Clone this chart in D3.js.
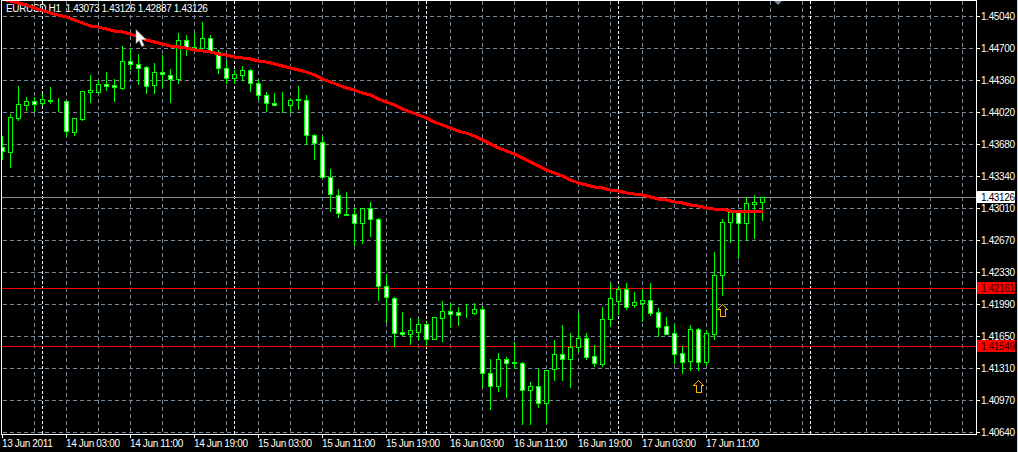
<!DOCTYPE html>
<html><head><meta charset="utf-8">
<script src="https://cdn.jsdelivr.net/npm/d3@7/dist/d3.min.js"></script>
<style>
html,body{margin:0;padding:0;background:#000;overflow:hidden}
svg{display:block}
text{font-family:"Liberation Sans",Arial,sans-serif;font-size:10px;letter-spacing:-0.35px;fill:#fff}
</style></head><body>
<svg id="c" width="1018" height="452"></svg>
<script>
const opens=[1.43654,1.43601,1.43961,1.44098,1.44141,1.44120,1.44151,1.44151,1.44141,1.43813,1.43950,1.44236,1.44236,1.44321,1.44310,1.44278,1.44564,1.44532,1.44500,1.44310,1.44447,1.44416,1.44373,1.44786,1.44701,1.44701,1.44807,1.44659,1.44490,1.44384,1.44416,1.44469,1.44331,1.44204,1.44120,1.44098,1.44098,1.44151,1.44151,1.43781,1.43707,1.43337,1.43147,1.42945,1.42945,1.42850,1.43009,1.42893,1.42184,1.42057,1.41697,1.41676,1.41697,1.41782,1.41623,1.41846,1.41920,1.41909,1.41909,1.41898,1.41941,1.41264,1.41126,1.41412,1.41380,1.41370,1.41084,1.41126,1.40947,1.41306,1.41465,1.41412,1.41539,1.41634,1.41444,1.41359,1.41835,1.42025,1.42152,1.41983,1.42004,1.42036,1.41909,1.41761,1.41687,1.41475,1.41391,1.41729,1.41380,1.41676,1.42300,1.42861,1.42967,1.42850,1.43052,1.43073];
const highs=[1.43770,1.44003,1.44299,1.44183,1.44183,1.44215,1.44289,1.44172,1.44141,1.43961,1.44247,1.44416,1.44363,1.44447,1.44373,1.44722,1.44691,1.44638,1.44511,1.44543,1.44627,1.44479,1.44860,1.44839,1.44860,1.44976,1.44839,1.44680,1.44574,1.44469,1.44511,1.44479,1.44373,1.44236,1.44225,1.44236,1.44172,1.44299,1.44204,1.43792,1.43770,1.43422,1.43210,1.43178,1.43009,1.43009,1.43073,1.42903,1.42311,1.42068,1.41909,1.41846,1.41846,1.41803,1.41856,1.42025,1.42004,1.41962,1.41994,1.42004,1.41973,1.41412,1.41475,1.41433,1.41592,1.41380,1.41169,1.41306,1.41296,1.41613,1.41772,1.41687,1.41898,1.41687,1.41560,1.41962,1.42216,1.42184,1.42216,1.42121,1.42152,1.42216,1.41951,1.41856,1.41782,1.41549,1.41772,1.41740,1.41719,1.42544,1.42893,1.42988,1.42988,1.43126,1.43147,1.43126];
const lows=[1.43527,1.43443,1.43940,1.44046,1.44035,1.44098,1.44120,1.44035,1.43770,1.43781,1.43940,1.44130,1.44225,1.44257,1.44141,1.44268,1.44479,1.44321,1.44225,1.44225,1.44289,1.44130,1.44331,1.44627,1.44680,1.44691,1.44648,1.44437,1.44331,1.44331,1.44363,1.44247,1.44162,1.44035,1.44098,1.44024,1.44024,1.44056,1.43686,1.43527,1.43337,1.42977,1.42914,1.42935,1.42618,1.42639,1.42713,1.42036,1.41803,1.41549,1.41666,1.41570,1.41623,1.41560,1.41623,1.41602,1.41751,1.41772,1.41856,1.41888,1.41116,1.40883,1.41073,1.41010,1.41317,1.40724,1.40724,1.40904,1.40735,1.41190,1.41190,1.41116,1.41497,1.41412,1.41338,1.41338,1.41761,1.41888,1.41941,1.41962,1.41814,1.41877,1.41655,1.41676,1.41370,1.41264,1.41296,1.41296,1.41348,1.41623,1.42089,1.42649,1.42480,1.42671,1.42692,1.42887];
const closes=[1.43612,1.43972,1.44109,1.44141,1.44109,1.44162,1.44141,1.44151,1.43823,1.43961,1.44247,1.44257,1.44321,1.44299,1.44289,1.44564,1.44532,1.44490,1.44299,1.44447,1.44426,1.44373,1.44786,1.44712,1.44712,1.44807,1.44659,1.44490,1.44384,1.44426,1.44469,1.44331,1.44204,1.44120,1.44098,1.44098,1.44151,1.44162,1.43781,1.43697,1.43337,1.43157,1.42956,1.42935,1.42850,1.43009,1.42893,1.42184,1.42068,1.41687,1.41676,1.41719,1.41782,1.41623,1.41856,1.41920,1.41888,1.41877,1.41909,1.41941,1.41264,1.41126,1.41412,1.41370,1.41370,1.41084,1.41126,1.40947,1.41296,1.41465,1.41412,1.41539,1.41634,1.41433,1.41370,1.41835,1.42057,1.42152,1.41962,1.42015,1.42036,1.41898,1.41751,1.41676,1.41465,1.41380,1.41729,1.41380,1.41687,1.42300,1.42861,1.42967,1.42850,1.43062,1.43073,1.43126];
const maValues=[1.45220,1.45198,1.45177,1.45156,1.45124,1.45098,1.45071,1.45050,1.45029,1.44997,1.44966,1.44934,1.44923,1.44902,1.44881,1.44871,1.44849,1.44818,1.44786,1.44765,1.44744,1.44722,1.44712,1.44701,1.44680,1.44670,1.44659,1.44638,1.44627,1.44606,1.44596,1.44585,1.44564,1.44553,1.44532,1.44511,1.44490,1.44469,1.44447,1.44416,1.44373,1.44342,1.44310,1.44278,1.44257,1.44225,1.44204,1.44162,1.44130,1.44098,1.44056,1.44024,1.43993,1.43961,1.43919,1.43887,1.43855,1.43823,1.43802,1.43770,1.43728,1.43686,1.43644,1.43612,1.43580,1.43538,1.43496,1.43453,1.43411,1.43379,1.43348,1.43305,1.43274,1.43252,1.43231,1.43221,1.43199,1.43189,1.43168,1.43157,1.43147,1.43126,1.43104,1.43094,1.43073,1.43062,1.43041,1.43030,1.43009,1.42998,1.42998,1.42977,1.42977,1.42977,1.42967,1.42967];
const priceTicks=["1.45040","1.44700","1.44360","1.44020","1.43680","1.43340","1.43010","1.42670","1.42330","1.41990","1.41650","1.41310","1.40970","1.40640"];
const timeLabels=["13 Jun 2011","14 Jun 03:00","14 Jun 11:00","14 Jun 19:00","15 Jun 03:00","15 Jun 11:00","15 Jun 19:00","16 Jun 03:00","16 Jun 11:00","16 Jun 19:00","17 Jun 03:00","17 Jun 11:00"];
const levels=[1.42161,1.41549];
const lastPrice=1.43126;
const arrowBars=[87,90];
const arrowPrices=[1.41190,1.41994];
const headerText="EURUSD,H1  1.43073 1.43126 1.42887 1.43126";

const svg=d3.select("#c");
const plotRight=976, plotBottom=434;
const y=d3.scaleLinear().domain([1.4504,1.4064]).range([16,432]);
const x=d3.scaleLinear().domain([0,95]).range([2,762]);
const Y=v=>Math.round(y(v));
const X=i=>Math.round(x(i));
svg.append("rect").attr("width",1018).attr("height",452).attr("fill","#000");
svg.append("defs").append("clipPath").attr("id","plot").append("rect").attr("x",2).attr("y",1).attr("width",plotRight-2).attr("height",plotBottom-1);
const crisp=s=>s.attr("shape-rendering","crispEdges");
const grid=crisp(svg.append("g"));
const gridPrices=priceTicks.map((d,i)=>16+32*i);
// horizontal grid
grid.selectAll("line.h").data(gridPrices).join("line").attr("class","h")
 .attr("x1",3).attr("x2",plotRight).attr("y1",d=>d+.5).attr("y2",d=>d+.5)
 .attr("stroke","#778899").attr("stroke-dasharray","4,3");
// vertical grid: every 4 bars
const vBars=d3.range(4,121,4);
grid.selectAll("line.v").data(vBars).join("line").attr("class","v")
 .attr("x1",d=>X(d)+.5).attr("x2",d=>X(d)+.5).attr("y1",1).attr("y2",plotBottom)
 .attr("stroke","#778899").attr("stroke-dasharray","4,3");
// period separators: every 24 bars
grid.selectAll("line.s").data([5,29,53,77,101]).join("line").attr("class","s")
 .attr("x1",d=>X(d)+.5).attr("x2",d=>X(d)+.5).attr("y1",1).attr("y2",plotBottom)
 .attr("stroke","#fff").attr("stroke-dasharray","3,2");
// current price and levels
crisp(svg.append("line")).attr("x1",2).attr("x2",plotRight).attr("y1",Y(lastPrice)+.5).attr("y2",Y(lastPrice)+.5).attr("stroke","#8a8f94");
crisp(svg.selectAll("line.lv").data(levels).join("line")).attr("class","lv").attr("x1",2).attr("x2",plotRight)
 .attr("y1",d=>Y(d)+.5).attr("y2",d=>Y(d)+.5).attr("stroke","#ff0000");
// header
svg.append("text").attr("x",6).attr("y",12).attr("xml:space","preserve").style("white-space","pre").text(headerText);
// candles
const plot=svg.append("g").attr("clip-path","url(#plot)");
const idx=d3.range(opens.length);
const cg=crisp(plot.append("g"));
cg.selectAll("line").data(idx).join("line")
 .attr("x1",i=>X(i)+.5).attr("x2",i=>X(i)+.5).attr("y1",i=>Y(highs[i])).attr("y2",i=>Y(lows[i])+1).attr("stroke","#00ff00");
cg.selectAll("rect").data(idx).join("rect")
 .attr("x",i=>X(i)-1.5).attr("width",4)
 .attr("y",i=>Math.min(Y(opens[i]),Y(closes[i]))+.5)
 .attr("height",i=>Math.abs(Y(opens[i])-Y(closes[i])))
 .attr("fill",i=>closes[i]>=opens[i]?"#000":"#fff")
 .attr("stroke","#00ff00");
// moving average
plot.append("path").datum(idx)
 .attr("d",d3.line().x(i=>x(i)+.5).y(i=>y(maValues[i])))
 .attr("fill","none").attr("stroke","#ff0000").attr("stroke-width",3).attr("shape-rendering","crispEdges");
// arrows
const ag=svg.append("g");
arrowBars.forEach((b,i)=>{
 const cx=X(b)+.5, t=Y(arrowPrices[i])+.5;
 const p=`M${cx} ${t}l5 5h-2.5v6.5h-5v-6.5h-2.5z`;
 ag.append("path").attr("d",p).attr("fill","#000").attr("stroke","#ffb400").attr("shape-rendering","crispEdges");
});
// cursor
svg.append("path").attr("d","M136 29.5v14l3.2-3 2.6 6 2.4-1-2.6-5.8h4.6z").attr("fill","#fff").attr("stroke","#888").attr("stroke-width",.6);
// top marker
svg.append("path").attr("d","M773 0h10l-5 5z").attr("fill","#778899");
// frame
const fr=crisp(svg.append("g")).attr("stroke","#fff");
fr.append("line").attr("x1",1.5).attr("x2",1.5).attr("y1",0).attr("y2",plotBottom+1);
fr.append("line").attr("x1",1).attr("x2",plotRight+1).attr("y1",.5).attr("y2",.5);
fr.append("line").attr("x1",1).attr("x2",plotRight+1).attr("y1",plotBottom+.5).attr("y2",plotBottom+.5);
fr.append("line").attr("x1",plotRight+.5).attr("x2",plotRight+.5).attr("y1",0).attr("y2",plotBottom+1);
crisp(svg.append("rect")).attr("x",1017).attr("y",0).attr("width",1).attr("height",452).attr("fill","#c8d4e0");
// right axis
const ra=svg.append("g");
crisp(ra.selectAll("line").data(gridPrices).join("line")).attr("x1",plotRight).attr("x2",plotRight+4)
 .attr("y1",d=>d+.5).attr("y2",d=>d+.5).attr("stroke","#fff");
ra.selectAll("text").data(priceTicks).join("text").attr("x",981).attr("y",(d,i)=>gridPrices[i]+4).text(d=>d);
// price boxes
[[lastPrice,"#fff","#000"],[levels[0],"#ff0000","#3a0000"],[levels[1],"#ff0000","#3a0000"]].forEach(([v,bg,fg])=>{
 crisp(svg.append("rect")).attr("x",977).attr("y",Y(v)-6).attr("width",38).attr("height",12).attr("fill",bg);
 svg.append("text").attr("x",981).attr("y",Y(v)+4).style("fill",fg).text(v.toFixed(5));
});
// time axis
const tb=svg.append("g");
crisp(tb.selectAll("line").data(timeLabels).join("line")).attr("x1",(d,i)=>X(i*8)+.5).attr("x2",(d,i)=>X(i*8)+.5).attr("y1",plotBottom).attr("y2",plotBottom+4).attr("stroke","#fff");
tb.selectAll("text").data(timeLabels).join("text").attr("x",(d,i)=>X(i*8)).attr("y",447).text(d=>d);
</script></body></html>
